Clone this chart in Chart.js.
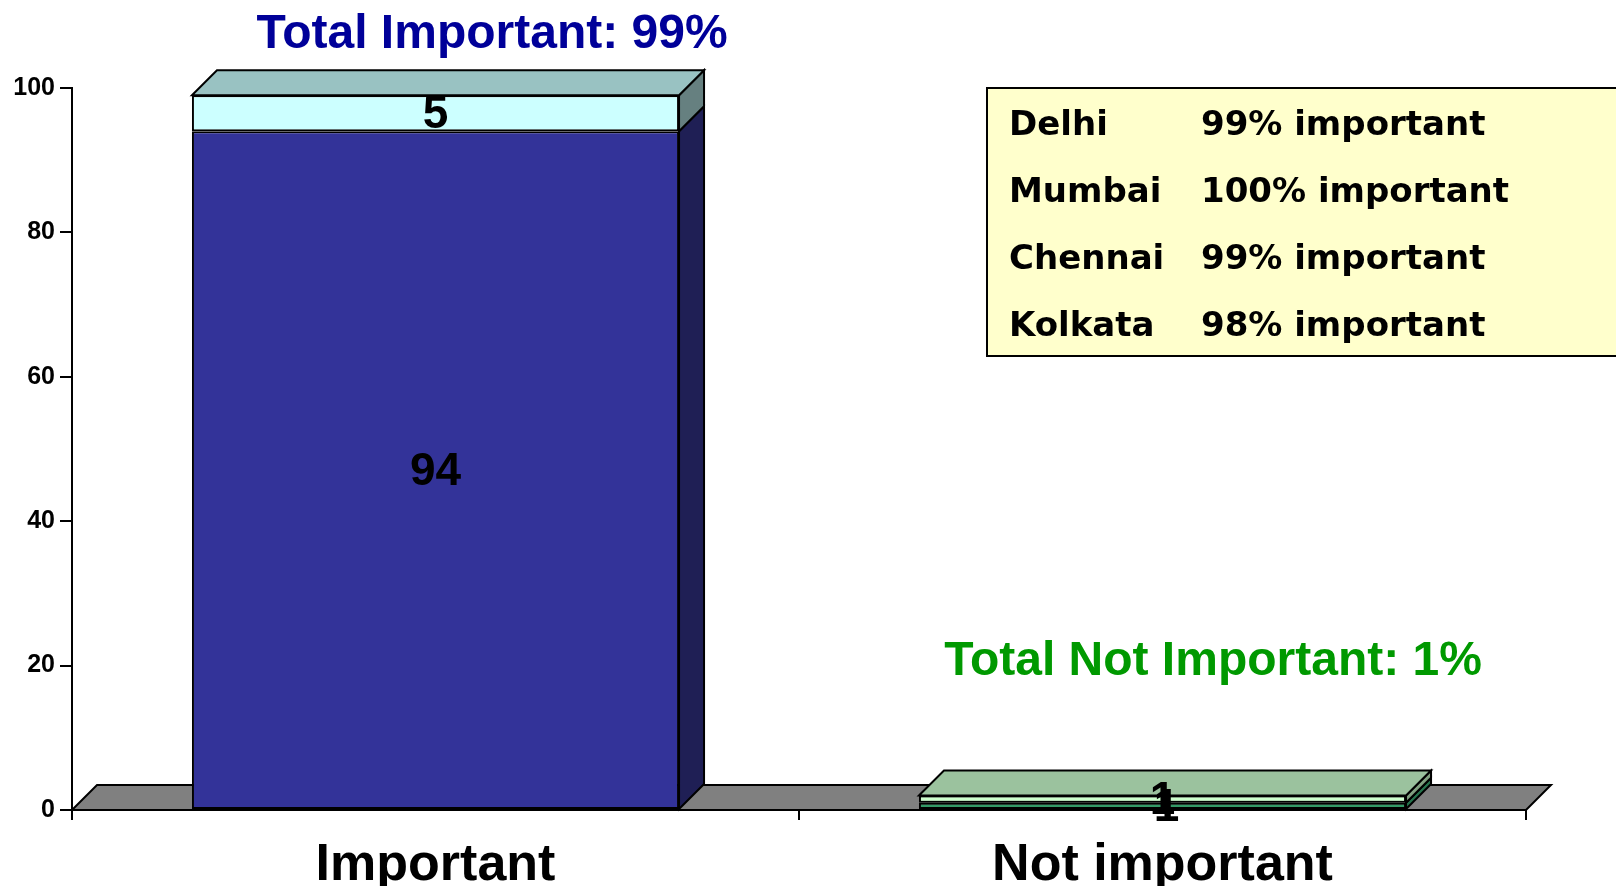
<!DOCTYPE html>
<html>
<head>
<meta charset="utf-8">
<script src="https://cdn.jsdelivr.net/npm/chart.js@4/dist/chart.umd.min.js"></script>
<style>
  html, body { margin: 0; padding: 0; background: #fff; }
  #wrap { width: 1616px; height: 886px; }
</style>
</head>
<body>
<div id="wrap"><canvas id="c" width="1616" height="886"></canvas></div>
<script>
// data
const categories = ["Important", "Not important"];
const lowerValues = [94, 1];
const upperValues = [5, 1];
const yTicks = [0, 20, 40, 60, 80, 100];
const cities = ["Delhi", "Mumbai", "Chennai", "Kolkata"];
const cityImportant = [99, 100, 99, 98];
const totalImportant = 99;
const totalNotImportant = 1;

// colours: front / side / top for each segment
const lowerFront = ["#333399", "#339966"];
const lowerSide = ["#1f1f55", "#26734d"];
const upperFront = ["#ccffff", "#ccffcc"];
const upperSide = ["#668080", "#80a080"];
const upperTop = ["#99c2c2", "#9bc29e"];

const DX = 25, DY = -25;
const sans = "'Liberation Sans', Arial, sans-serif";

function poly(ctx, pts, fill) {
  ctx.beginPath();
  ctx.moveTo(pts[0][0], pts[0][1]);
  for (let i = 1; i < pts.length; i++) ctx.lineTo(pts[i][0], pts[i][1]);
  ctx.closePath();
  ctx.fillStyle = fill;
  ctx.fill();
  ctx.lineWidth = 2;
  ctx.strokeStyle = "#000";
  ctx.stroke();
}

const floorPlugin = {
  id: "floor",
  beforeDatasetsDraw(chart) {
    const ctx = chart.ctx, x = chart.scales.x, y = chart.scales.y;
    const y0 = y.getPixelForValue(0);
    ctx.save();
    poly(ctx, [[x.left, y0], [x.left + DX, y0 + DY], [x.right + DX, y0 + DY], [x.right, y0]], "#808080");
    ctx.restore();
  }
};

const boxPlugin = {
  id: "box3d",
  afterDatasetsDraw(chart) {
    const ctx = chart.ctx;
    const metaLo = chart.getDatasetMeta(0), metaHi = chart.getDatasetMeta(1);
    ctx.save();
    categories.forEach((c, i) => {
      const lo = metaLo.data[i], hi = metaHi.data[i];
      const half = lo.width / 2;
      const l = lo.x - half, r = lo.x + half;
      // sides
      poly(ctx, [[r, lo.base], [r + DX, lo.base + DY], [r + DX, lo.y + DY], [r, lo.y]], lowerSide[i]);
      poly(ctx, [[r, hi.base], [r + DX, hi.base + DY], [r + DX, hi.y + DY], [r, hi.y]], upperSide[i]);
      // top
      poly(ctx, [[l, hi.y], [l + DX, hi.y + DY], [r + DX, hi.y + DY], [r, hi.y]], upperTop[i]);
    });
    // value labels
    ctx.fillStyle = "#000";
    ctx.font = "bold 46px " + sans;
    ctx.textAlign = "center";
    ctx.textBaseline = "middle";
    [metaLo, metaHi].forEach((meta, d) => {
      const vals = d === 0 ? lowerValues : upperValues;
      meta.data.forEach((bar, i) => {
        ctx.fillText(String(vals[i]), bar.x + (d === 0 && i === 1 ? 4 : 0), (bar.y + bar.base) / 2 + 2);
      });
    });
    ctx.restore();
  }
};

const textPlugin = {
  id: "texts",
  afterDraw(chart) {
    const ctx = chart.ctx;
    ctx.save();
    ctx.textAlign = "center";
    ctx.textBaseline = "alphabetic";
    ctx.font = "bold 48px " + sans;
    ctx.fillStyle = "#000099";
    ctx.fillText("Total Important: " + totalImportant + "%", 492, 48);
    ctx.fillStyle = "#009900";
    ctx.fillText("Total Not Important: " + totalNotImportant + "%", 1213, 675);

    // city box
    ctx.fillStyle = "#ffffcc";
    ctx.fillRect(987, 88, 640, 268);
    ctx.lineWidth = 2;
    ctx.strokeStyle = "#000";
    ctx.strokeRect(987, 88, 640, 268);
    ctx.fillStyle = "#000";
    ctx.textAlign = "left";
    ctx.textBaseline = "middle";
    ctx.font = "bold 34px 'DejaVu Sans', Verdana, sans-serif";
    cities.forEach((city, i) => {
      const yy = 126 + i * 67;
      ctx.fillText(city, 1009, yy);
      ctx.fillText(cityImportant[i] + "% important", 1201, yy);
    });
    ctx.restore();
  }
};

new Chart(document.getElementById("c"), {
  type: "bar",
  data: {
    labels: categories,
    datasets: [
      { label: "lower", data: lowerValues, backgroundColor: lowerFront, borderColor: "#000", borderWidth: 2, borderSkipped: false },
      { label: "upper", data: upperValues, backgroundColor: upperFront, borderColor: "#000", borderWidth: 2, borderSkipped: false }
    ]
  },
  options: {
    responsive: false,
    animation: false,
    layout: { padding: { top: 88, right: 90, left: 0, bottom: 0 } },
    plugins: { legend: { display: false }, tooltip: { enabled: false }, title: { display: false } },
    datasets: { bar: { categoryPercentage: 1, barPercentage: 0.67 } },
    scales: {
      x: {
        stacked: true,
        grid: { offset: true, drawOnChartArea: false, drawTicks: true, tickLength: 10, color: "#000", lineWidth: 2 },
        border: { display: true, color: "#000", width: 2 },
        ticks: { color: "#000", font: { family: sans, size: 52, weight: "bold", lineHeight: 1.2 }, padding: 14 },
        afterFit(s) { s.height = 76; }
      },
      y: {
        stacked: true,
        min: 0,
        max: 100,
        afterBuildTicks(s) { s.ticks = yTicks.map(v => ({ value: v })); },
        grid: { drawOnChartArea: false, drawTicks: true, tickLength: 12, color: "#000", lineWidth: 2 },
        border: { display: true, color: "#000", width: 2 },
        ticks: { color: "#000", font: { family: sans, size: 25, weight: "bold" }, padding: 5 },
        afterFit(s) { s.width = 72; }
      }
    }
  },
  plugins: [floorPlugin, boxPlugin, textPlugin]
});
</script>
</body>
</html>
